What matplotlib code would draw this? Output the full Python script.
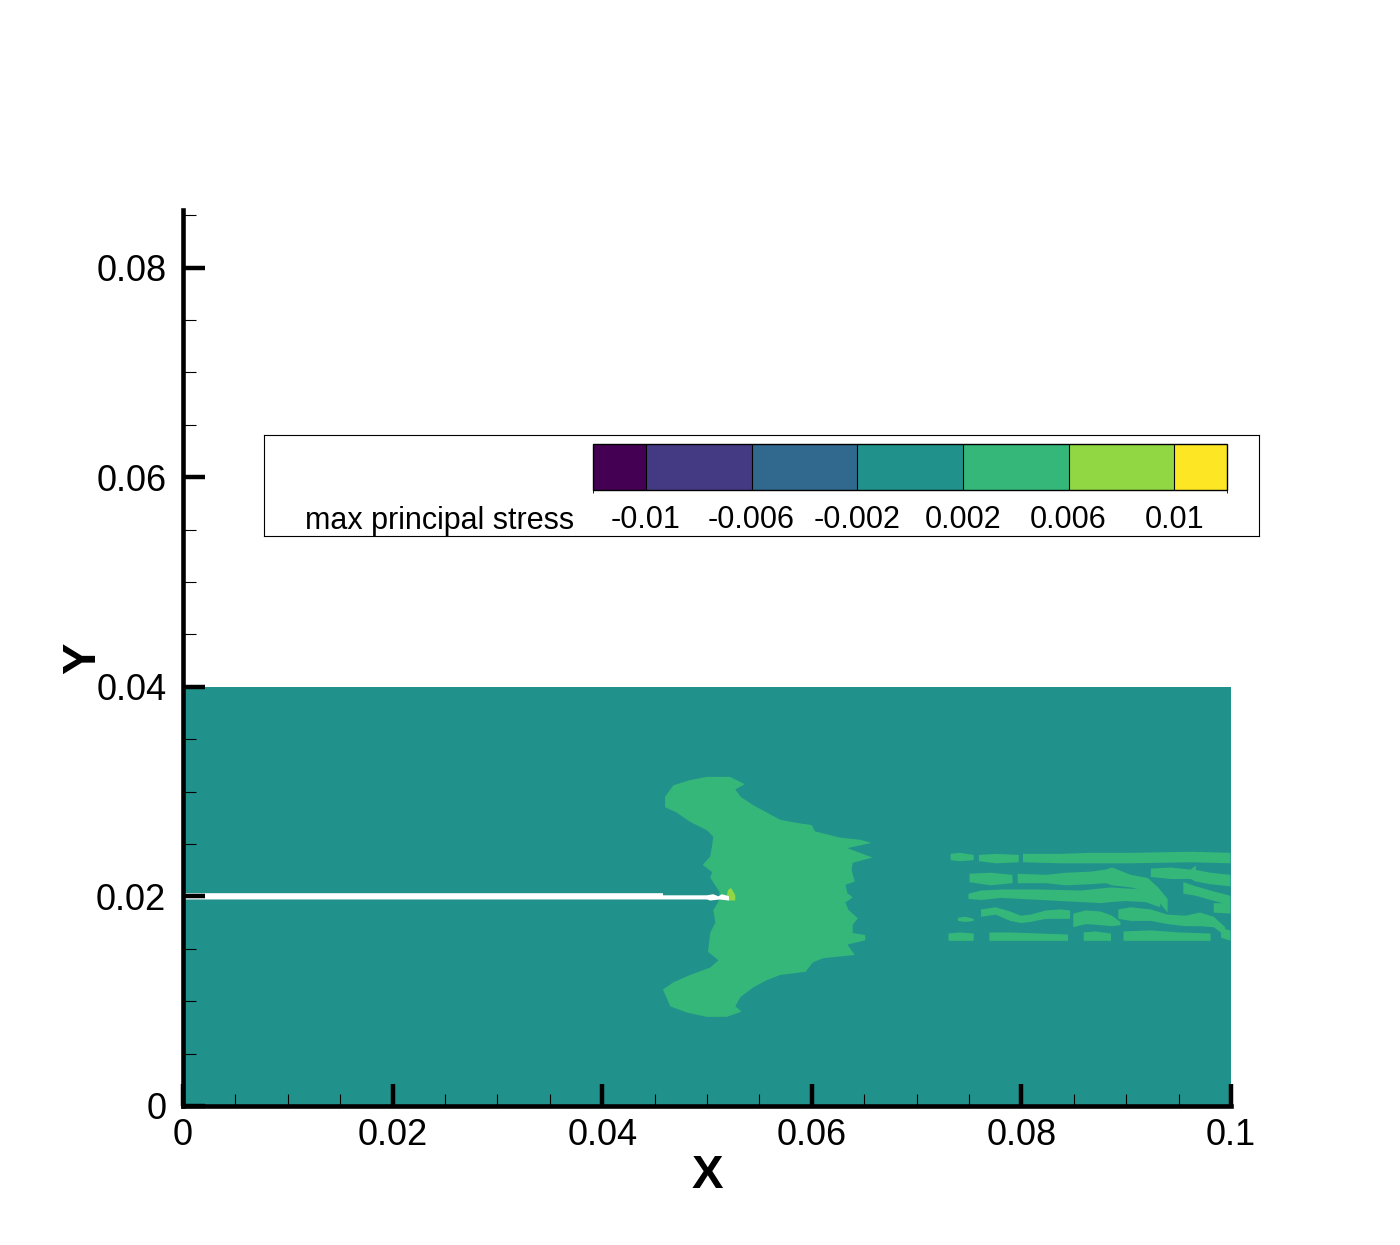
"""
Contour of max principal stress around a crack (Tecplot-style layout).
"""

import matplotlib
matplotlib.use('Agg')
import matplotlib.pyplot as plt
from matplotlib.colors import ListedColormap, BoundaryNorm
from matplotlib.cm import ScalarMappable
from matplotlib.ticker import MultipleLocator

plt.rcParams['font.family'] = ['Liberation Sans', 'DejaVu Sans']
plt.rcParams['axes.unicode_minus'] = False

# contour levels and legend
level_bounds = [-0.012, -0.01, -0.006, -0.002, 0.002, 0.006, 0.01, 0.012]
level_colors = ['#440154', '#443983', '#31688e', '#21918c', '#35b779', '#90d743', '#fde725']
legend_ticks = [-0.01, -0.006, -0.002, 0.002, 0.006, 0.01]
legend_labels = ['-0.01', '-0.006', '-0.002', '0.002', '0.006', '0.01']
legend_title = 'max principal stress'

x_ticks = [0.0, 0.02, 0.04, 0.06, 0.08, 0.1]
x_tick_labels = ['0', '0.02', '0.04', '0.06', '0.08', '0.1']
y_ticks = [0.0, 0.02, 0.04, 0.06, 0.08]
y_tick_labels = ['0', '0.02', '0.04', '0.06', '0.08']

# plate (background level)
domain_x = [0.0, 0.1, 0.1, 0.0]
domain_y = [0.0, 0.0, 0.04, 0.04]
domain_level = 0.0

# tension zone ahead of the crack tip
blob_x = [0.0468, 0.0484, 0.0500, 0.0522, 0.0532, 0.0536, 0.0527, 0.0532, 0.0544, 0.0557,
          0.0570, 0.0586, 0.0600, 0.0603, 0.0627, 0.0646, 0.0657, 0.0634, 0.0658, 0.0639,
          0.0638, 0.0641, 0.0632, 0.0634, 0.0639, 0.0632, 0.0635, 0.0644, 0.0639, 0.0639,
          0.0651, 0.0651, 0.0634, 0.0641, 0.0611, 0.0601, 0.0594, 0.0570, 0.0557, 0.0544,
          0.0532, 0.0527, 0.0533, 0.0519, 0.0500, 0.0481, 0.0465, 0.0458, 0.0468, 0.0484,
          0.0503, 0.0511, 0.0501, 0.0503, 0.0508, 0.0506, 0.0511, 0.0512, 0.0503, 0.0505,
          0.0496, 0.0503, 0.0505, 0.0506, 0.0500, 0.0484, 0.0471, 0.0460, 0.0460, 0.0465]
blob_y = [0.0306, 0.0311, 0.0314, 0.0314, 0.0309, 0.0307, 0.0302, 0.0295, 0.0287, 0.0280,
          0.0273, 0.0270, 0.0268, 0.0262, 0.0256, 0.0254, 0.0251, 0.0246, 0.0237, 0.0232,
          0.0225, 0.0214, 0.0211, 0.0203, 0.0199, 0.0194, 0.0187, 0.0179, 0.0173, 0.0165,
          0.0163, 0.0158, 0.0154, 0.0144, 0.0141, 0.0137, 0.0128, 0.0125, 0.0120, 0.0113,
          0.0104, 0.0095, 0.0090, 0.0085, 0.0085, 0.0089, 0.0095, 0.0111, 0.0118, 0.0125,
          0.0132, 0.0139, 0.0147, 0.0165, 0.0175, 0.0187, 0.0195, 0.0204, 0.0218, 0.0223,
          0.0230, 0.0238, 0.0249, 0.0257, 0.0263, 0.0271, 0.0280, 0.0285, 0.0295, 0.0302]
blob_level = 0.004

# small hot spot at the crack tip
tip_x = [0.0520, 0.0523, 0.0527, 0.0527, 0.0521, 0.0519]
tip_y = [0.0206, 0.0208, 0.0201, 0.0196, 0.0196, 0.0201]
tip_level = 0.008

# crack (no material)
crack_x = [0.0, 0.0458, 0.0458, 0.0500, 0.0506, 0.0511, 0.0514, 0.0518, 0.0521,
           0.0521, 0.0512, 0.0503, 0.0500, 0.0]
crack_y = [0.0203, 0.0203, 0.0201, 0.0201, 0.0202, 0.0200, 0.0202, 0.0201, 0.0200,
           0.0196, 0.0197, 0.0196, 0.0197, 0.0197]

# banded tension zone behind the wake (x, top edge, bottom edge)
stripe_x = [
    [0.0732, 0.0741, 0.0754],
    [0.0759, 0.0775, 0.0797],
    [0.0801, 0.0837, 0.0865, 0.0904, 0.0961, 0.0999],
    [0.0750, 0.0770, 0.0791],
    [0.0796, 0.0823, 0.0842, 0.0865, 0.0880, 0.0886, 0.0904, 0.0920, 0.0930, 0.0939],
    [0.0749, 0.0761, 0.0780, 0.0818, 0.0856, 0.0875, 0.0885, 0.0899, 0.0918, 0.0932],
    [0.0761, 0.0775, 0.0789, 0.0799, 0.0808, 0.0823, 0.0837, 0.0846],
    [0.0849, 0.0861, 0.0875, 0.0886, 0.0894],
    [0.0892, 0.0904, 0.0923, 0.0939, 0.0956, 0.0970, 0.0983, 0.0994],
    [0.0739, 0.0746, 0.0754],
    [0.0730, 0.0741, 0.0754],
    [0.0769, 0.0789, 0.0818, 0.0844],
    [0.0859, 0.0870, 0.0885],
    [0.0897, 0.0923, 0.0951, 0.0980],
    [0.0990, 0.0999],
    [0.0923, 0.0942, 0.0961, 0.0966],
    [0.0964, 0.0980, 0.0999],
    [0.0954, 0.0966, 0.0980, 0.0999],
    [0.0983, 0.0999],
]
stripe_top = [
    [0.0241, 0.0242, 0.0240],
    [0.0240, 0.0241, 0.0240],
    [0.0241, 0.0241, 0.0242, 0.0242, 0.0243, 0.0242],
    [0.0222, 0.0223, 0.0221],
    [0.0222, 0.0221, 0.0223, 0.0224, 0.0226, 0.0228, 0.0221, 0.0218, 0.0209, 0.0198],
    [0.0203, 0.0206, 0.0207, 0.0207, 0.0206, 0.0208, 0.0209, 0.0208, 0.0207, 0.0203],
    [0.0188, 0.0190, 0.0186, 0.0182, 0.0183, 0.0187, 0.0188, 0.0187],
    [0.0184, 0.0187, 0.0186, 0.0182, 0.0176],
    [0.0188, 0.0190, 0.0188, 0.0183, 0.0182, 0.0185, 0.0181, 0.0171],
    [0.0180, 0.0181, 0.0179],
    [0.0165, 0.0166, 0.0165],
    [0.0166, 0.0166, 0.0165, 0.0164],
    [0.0166, 0.0167, 0.0165],
    [0.0167, 0.0168, 0.0166, 0.0165],
    [0.0170, 0.0168],
    [0.0227, 0.0228, 0.0226, 0.0230],
    [0.0226, 0.0223, 0.0221],
    [0.0214, 0.0210, 0.0206, 0.0201],
    [0.0194, 0.0194],
]
stripe_bot = [
    [0.0235, 0.0234, 0.0235],
    [0.0234, 0.0232, 0.0233],
    [0.0233, 0.0232, 0.0232, 0.0232, 0.0233, 0.0232],
    [0.0214, 0.0211, 0.0213],
    [0.0213, 0.0213, 0.0211, 0.0212, 0.0213, 0.0211, 0.0209, 0.0205, 0.0196, 0.0185],
    [0.0198, 0.0197, 0.0199, 0.0197, 0.0195, 0.0194, 0.0195, 0.0196, 0.0195, 0.0190],
    [0.0181, 0.0183, 0.0177, 0.0175, 0.0176, 0.0179, 0.0179, 0.0179],
    [0.0171, 0.0174, 0.0173, 0.0172, 0.0173],
    [0.0179, 0.0177, 0.0177, 0.0174, 0.0172, 0.0172, 0.0171, 0.0163],
    [0.0177, 0.0176, 0.0177],
    [0.0158, 0.0158, 0.0158],
    [0.0158, 0.0158, 0.0158, 0.0158],
    [0.0158, 0.0158, 0.0158],
    [0.0158, 0.0158, 0.0158, 0.0158],
    [0.0161, 0.0158],
    [0.0219, 0.0217, 0.0217, 0.0215],
    [0.0215, 0.0212, 0.0210],
    [0.0203, 0.0201, 0.0197, 0.0192],
    [0.0185, 0.0184],
]
stripe_level = 0.004

cmap = ListedColormap(level_colors)
norm = BoundaryNorm(level_bounds, ncolors=len(level_colors))


def level_color(value):
    return cmap(norm(value))


fig = plt.figure(figsize=(14, 12.45), dpi=100)
ax = fig.add_axes([0.1307, 0.1117, 0.7486, 0.7197])

# campo de tensao
ax.fill(domain_x, domain_y, color=level_color(domain_level), lw=0, zorder=1)
ax.fill(blob_x, blob_y, color=level_color(blob_level), lw=0, zorder=1.1)
for sx, st, sb in zip(stripe_x, stripe_top, stripe_bot):
    ax.fill_between(sx, sb, st, color=level_color(stripe_level), lw=0, zorder=1.1)
ax.fill(tip_x, tip_y, color=level_color(tip_level), lw=0, zorder=1.2)
ax.fill(crack_x, crack_y, color='white', lw=0, zorder=1.3)

ax.set_xlim(0, 0.1)
ax.set_ylim(0, 0.0855)

for side in ['top', 'right']:
    ax.spines[side].set_visible(False)
for side in ['left', 'bottom']:
    ax.spines[side].set_linewidth(3.3)
    ax.spines[side].set_zorder(3)

ax.set_xticks(x_ticks)
ax.set_xticklabels(x_tick_labels)
ax.set_yticks(y_ticks)
ax.set_yticklabels(y_tick_labels)
ax.xaxis.set_minor_locator(MultipleLocator(0.005))
ax.yaxis.set_minor_locator(MultipleLocator(0.005))
ax.tick_params(which='major', direction='in', length=16, width=3.2, labelsize=26,
               top=False, right=False)
ax.tick_params(axis='x', which='major', pad=9)
ax.tick_params(axis='y', which='major', pad=12)
ax.tick_params(which='minor', direction='in', length=9, width=0.8, top=False, right=False)

ax.set_xlabel('X', fontsize=34, fontweight='bold', va='center')
ax.xaxis.set_label_coords(0.5, -0.078)
ax.set_ylabel('Y', fontsize=34, fontweight='bold', va='center')
ax.yaxis.set_label_coords(-0.0955, 0.5)

# legenda
lax = fig.add_axes([0.1886, 0.5695, 0.7107, 0.0811])
lax.set_xticks([])
lax.set_yticks([])
for sp in lax.spines.values():
    sp.set_linewidth(0.8)
lax.text(0.0412, 0.15, legend_title, fontsize=22, va='center', ha='left',
         transform=lax.transAxes)

cax = fig.add_axes([0.4236, 0.6064, 0.4529, 0.0369])
cb = fig.colorbar(ScalarMappable(norm=norm, cmap=cmap), cax=cax, orientation='horizontal',
                  spacing='proportional', ticks=legend_ticks, drawedges=True)
cb.ax.set_xticklabels(legend_labels)
cb.ax.tick_params(length=0, labelsize=22, pad=11)
cb.outline.set_linewidth(1.0)
cb.dividers.set_linewidth(0.8)

fig.savefig('out.png', dpi=100)
